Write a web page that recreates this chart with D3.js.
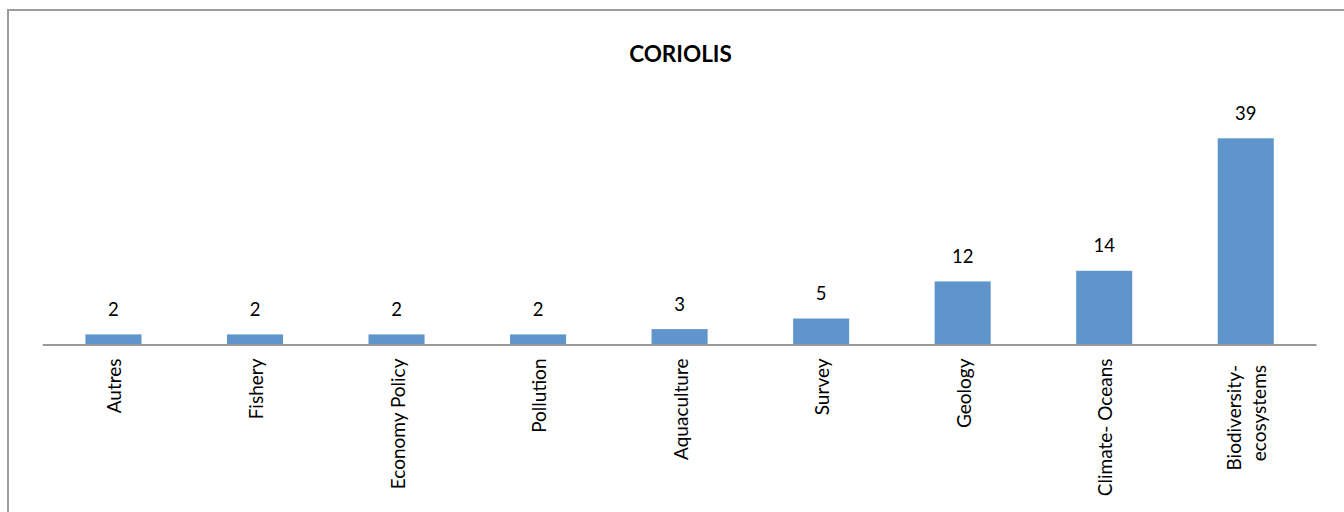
<!DOCTYPE html>
<html>
<head>
<meta charset="utf-8">
<script src="https://cdn.jsdelivr.net/npm/d3@7"></script>
<style>
  html, body { margin: 0; padding: 0; background: #fff; }
  svg { display: block; }
</style>
</head>
<body>
<svg id="chart" width="1344" height="512"></svg>
<script>
const title = "CORIOLIS";
const categories = ["Autres", "Fishery", "Economy Policy", "Pollution", "Aquaculture", "Survey", "Geology", "Climate- Oceans", "Biodiversity-\necosystems"];
const values = [2, 2, 2, 2, 3, 5, 12, 14, 39];
const yMax = 45;

const svg = d3.select("#chart");
const W = 1344, H = 512;
const font = "Lato, 'Open Sans', sans-serif";

// outer border
svg.append("rect")
  .attr("x", 8).attr("y", 10)
  .attr("width", W + 20).attr("height", H + 20)
  .attr("fill", "#fff")
  .attr("stroke", "#9c9c9c")
  .attr("stroke-width", 2);

const plot = { left: 42.7, right: 1316.5, top: 106.5, bottom: 345 };

const pad = 0.604;
const x = d3.scaleBand()
  .domain(categories)
  .range([plot.left, plot.right])
  .paddingInner(pad)
  .paddingOuter(pad / 2);

const y = d3.scaleLinear()
  .domain([0, yMax])
  .range([plot.bottom, plot.top]);

// title
svg.append("text")
  .attr("x", 680.5).attr("y", 62)
  .attr("text-anchor", "middle")
  .attr("font-family", font)
  .attr("font-weight", "bold")
  .attr("font-size", 22.5)
  .attr("fill", "#000")
  .text(title);

// bars
svg.append("g").selectAll("rect")
  .data(categories)
  .join("rect")
  .attr("x", d => x(d))
  .attr("y", (d, i) => y(values[i]))
  .attr("width", x.bandwidth())
  .attr("height", (d, i) => y(0) - y(values[i]))
  .attr("fill", "#5f95cb");

// value labels
svg.append("g").selectAll("text")
  .data(categories)
  .join("text")
  .attr("x", d => x(d) + x.bandwidth() / 2)
  .attr("y", (d, i) => y(values[i]) - 18.5)
  .attr("text-anchor", "middle")
  .attr("font-family", font)
  .attr("font-size", 18.5)
  .attr("fill", "#000")
  .text((d, i) => values[i]);

// x axis
const xAxis = d3.axisBottom(x).tickSize(0).tickFormat("");
const gx = svg.append("g")
  .attr("transform", `translate(0,${plot.bottom})`)
  .call(xAxis);
gx.select(".domain").remove();
gx.append("line")
  .attr("x1", plot.left).attr("x2", plot.right)
  .attr("y1", 0).attr("y2", 0)
  .attr("stroke", "#999")
  .attr("stroke-width", 2);

// category labels (rotated)
const lineH = 25;
categories.forEach(cat => {
  const lines = cat.split("\n");
  const cx = x(cat) + x.bandwidth() / 2;
  const endY = plot.bottom + (lines.length > 1 ? 20 : 13.5);
  lines.forEach((ln, j) => {
    const off = (j - (lines.length - 1) / 2) * lineH;
    svg.append("text")
      .attr("transform", `translate(${cx + off},${endY}) rotate(-90)`)
      .attr("dy", "0.42em")
      .attr("text-anchor", "end")
      .attr("font-family", font)
      .attr("font-size", 19)
      .attr("fill", "#000")
      .text(ln);
  });
});
</script>
</body>
</html>
